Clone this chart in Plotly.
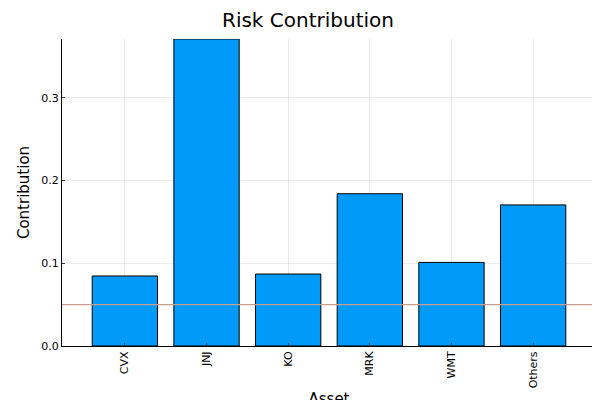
import plotly.graph_objects as go

assets = ["CVX", "JNJ", "KO", "MRK", "WMT", "Others"]
contribution = [0.0846, 0.371, 0.087, 0.184, 0.101, 0.1705]
threshold = 0.05

fig = go.Figure()
fig.add_trace(go.Bar(x=list(range(len(assets))), y=contribution, width=0.8,
                     marker=dict(color="#009af9", line=dict(color="black", width=1))))
fig.add_hline(y=threshold, line=dict(color="#c9a08f", width=1.2))

fig.update_layout(
    width=600, height=400, plot_bgcolor="white", paper_bgcolor="white",
    margin=dict(l=54, r=12, t=31, b=62, autoexpand=False), showlegend=False,
    font=dict(family="DejaVu Sans", color="black"),
    title=dict(text="Risk Contribution", x=0.5, xanchor="center", y=0.97, yanchor="middle",
               font=dict(size=20)),
)
fig.update_xaxes(tickvals=list(range(len(assets))), ticktext=assets, tickangle=-90,
                 range=[-0.77, 5.77], showline=True, linecolor="black", mirror=False,
                 showgrid=True, gridcolor="rgba(0,0,0,0.07)", ticks="inside", ticklen=3,
                 automargin=False, tickfont=dict(size=11),
                 title=dict(text="Asset", font=dict(size=15), standoff=6))
fig.update_yaxes(range=[0, 0.371], tickvals=[0, 0.1, 0.2, 0.3], ticktext=["0.0", "0.1", "0.2", "0.3"],
                 showline=True, linecolor="black", showgrid=True, gridcolor="rgba(0,0,0,0.07)",
                 zeroline=False, ticks="inside", ticklen=3, tickfont=dict(size=11),
                 automargin=False, title=dict(text="Contribution", font=dict(size=15), standoff=8))
fig.write_html("out.html")
